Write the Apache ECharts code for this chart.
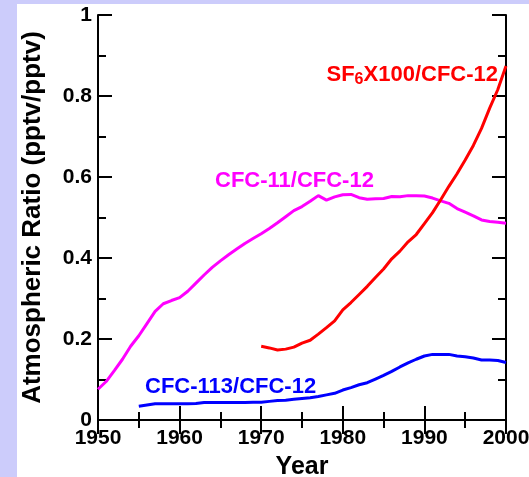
<!DOCTYPE html>
<html>
<head>
<meta charset="utf-8">
<script src="https://cdn.jsdelivr.net/npm/echarts@6/dist/echarts.min.js"></script>
<style>
  html, body { margin: 0; padding: 0; }
  body { width: 529px; height: 477px; background: #ccccfb; position: relative; overflow: hidden; }
  #panel { position: absolute; left: 17px; top: 4px; right: 0; bottom: 0; background: #ffffff; }
  #chart { position: absolute; left: 0; top: 0; width: 529px; height: 477px; }
</style>
</head>
<body>
<div id="panel"></div>
<div id="chart"></div>
<script>
// Ratio of CFC-11 to CFC-12, yearly
const cfc11Years = [1950,1951,1952,1953,1954,1955,1956,1957,1958,1959,1960,1961,1962,1963,1964,1965,1966,1967,1968,1969,1970,1971,1972,1973,1974,1975,1976,1977,1978,1979,1980,1981,1982,1983,1984,1985,1986,1987,1988,1989,1990,1991,1992,1993,1994,1995,1996,1997,1998,1999,2000];
const cfc11Ratio = [0.076,0.095,0.122,0.150,0.182,0.208,0.238,0.268,0.287,0.295,0.302,0.318,0.338,0.358,0.377,0.393,0.408,0.422,0.436,0.448,0.460,0.473,0.487,0.502,0.517,0.527,0.540,0.554,0.543,0.551,0.556,0.557,0.549,0.545,0.546,0.547,0.552,0.551,0.554,0.554,0.553,0.548,0.541,0.535,0.522,0.513,0.504,0.494,0.490,0.488,0.486];

// SF6 (x100) to CFC-12
const sf6Years = [1970,1971,1972,1973,1974,1975,1976,1977,1978,1979,1980,1981,1982,1983,1984,1985,1986,1987,1988,1989,1990,1991,1992,1993,1994,1995,1996,1997,1998,1999,2000];
const sf6Ratio = [0.182,0.178,0.173,0.175,0.180,0.190,0.197,0.212,0.228,0.245,0.272,0.290,0.310,0.330,0.352,0.373,0.398,0.417,0.440,0.458,0.485,0.512,0.544,0.577,0.608,0.642,0.678,0.720,0.770,0.816,0.874];

// CFC-113 to CFC-12
const cfc113Years = [1955,1956,1957,1958,1959,1960,1961,1962,1963,1964,1965,1966,1967,1968,1969,1970,1971,1972,1973,1974,1975,1976,1977,1978,1979,1980,1981,1982,1983,1984,1985,1986,1987,1988,1989,1990,1991,1992,1993,1994,1995,1996,1997,1998,1999,2000];
const cfc113Ratio = [0.034,0.037,0.040,0.040,0.040,0.040,0.040,0.041,0.043,0.043,0.043,0.043,0.043,0.043,0.044,0.044,0.046,0.048,0.049,0.051,0.053,0.055,0.058,0.062,0.066,0.074,0.080,0.087,0.092,0.101,0.110,0.120,0.131,0.141,0.150,0.158,0.162,0.162,0.162,0.158,0.156,0.153,0.148,0.148,0.147,0.142];

const xTicks = { min: 1950, max: 2000, step: 10 };
const yTicks = { min: 0, max: 1, step: 0.2 };

const FONT = '"Liberation Sans", Arial, Helvetica, sans-serif';

function pairs(xs, ys) { return xs.map((x, i) => [x, ys[i]]); }

const frame = { lineStyle: { color: '#000', width: 2 } };
const tick = { show: true, inside: true, length: 14, lineStyle: { color: '#000', width: 2 } };
const minor = { show: true, splitNumber: 2, length: 8, lineStyle: { color: '#000', width: 2 } };

function xAxis(pos, withLabels) {
  return {
    type: 'value', position: pos, min: xTicks.min, max: xTicks.max, interval: xTicks.step,
    axisLine: frame, axisTick: tick, minorTick: minor, splitLine: { show: false },
    axisLabel: { show: withLabels, color: '#000', fontFamily: FONT, fontWeight: 'bold', fontSize: 21, margin: 8,
                 formatter: v => String(v) },
    name: withLabels ? 'Year' : '', nameLocation: 'middle', nameGap: 35,
    nameTextStyle: { color: '#000', fontFamily: FONT, fontWeight: 'bold', fontSize: 25 }
  };
}
function yAxis(pos, withLabels) {
  return {
    type: 'value', position: pos, min: yTicks.min, max: yTicks.max, interval: yTicks.step,
    axisLine: frame, axisTick: tick, minorTick: minor, splitLine: { show: false },
    axisLabel: { show: withLabels, color: '#000', fontFamily: FONT, fontWeight: 'bold', fontSize: 21, margin: 6 },
    name: withLabels ? 'Atmospheric Ratio (pptv/pptv)' : '', nameLocation: 'middle', nameGap: 52,
    nameTextStyle: { color: '#000', fontFamily: FONT, fontWeight: 'bold', fontSize: 26 }
  };
}

function line(name, color, data) {
  return {
    name, type: 'line', data, showSymbol: false, symbol: 'none',
    lineStyle: { color, width: 3 }, xAxisIndex: 0, yAxisIndex: 0, animation: false, silent: true
  };
}

const chart = echarts.init(document.getElementById('chart'), null, { renderer: 'canvas' });
chart.setOption({
  backgroundColor: 'transparent',
  animation: false,
  grid: { left: 98, right: 23, top: 15, bottom: 57, containLabel: false, outerBoundsMode: 'none' },
  xAxis: [xAxis('bottom', true), xAxis('top', false)],
  yAxis: [yAxis('left', true), yAxis('right', false)],
  series: [
    line('CFC-11/CFC-12', '#ff00ff', pairs(cfc11Years, cfc11Ratio)),
    line('SF6X100/CFC-12', '#ff0000', pairs(sf6Years, sf6Ratio)),
    line('CFC-113/CFC-12', '#0000ff', pairs(cfc113Years, cfc113Ratio))
  ],
  graphic: [
    {
      type: 'text', right: 31, top: 64,
      style: {
        text: 'SF{s|6}X100/CFC-12', fill: '#ff0000',
        font: 'bold 22px ' + FONT,
        rich: { s: { fontSize: 16, fontWeight: 'bold', fontFamily: FONT, fill: '#ff0000', padding: [10, 0, 0, 0] } }
      }
    },
    {
      type: 'text', left: 215, top: 170,
      style: { text: 'CFC-11/CFC-12', fill: '#ff00ff', font: 'bold 22px ' + FONT }
    },
    {
      type: 'text', left: 145, top: 376,
      style: { text: 'CFC-113/CFC-12', fill: '#0000ff', font: 'bold 22px ' + FONT }
    }
  ]
});
</script>
</body>
</html>
